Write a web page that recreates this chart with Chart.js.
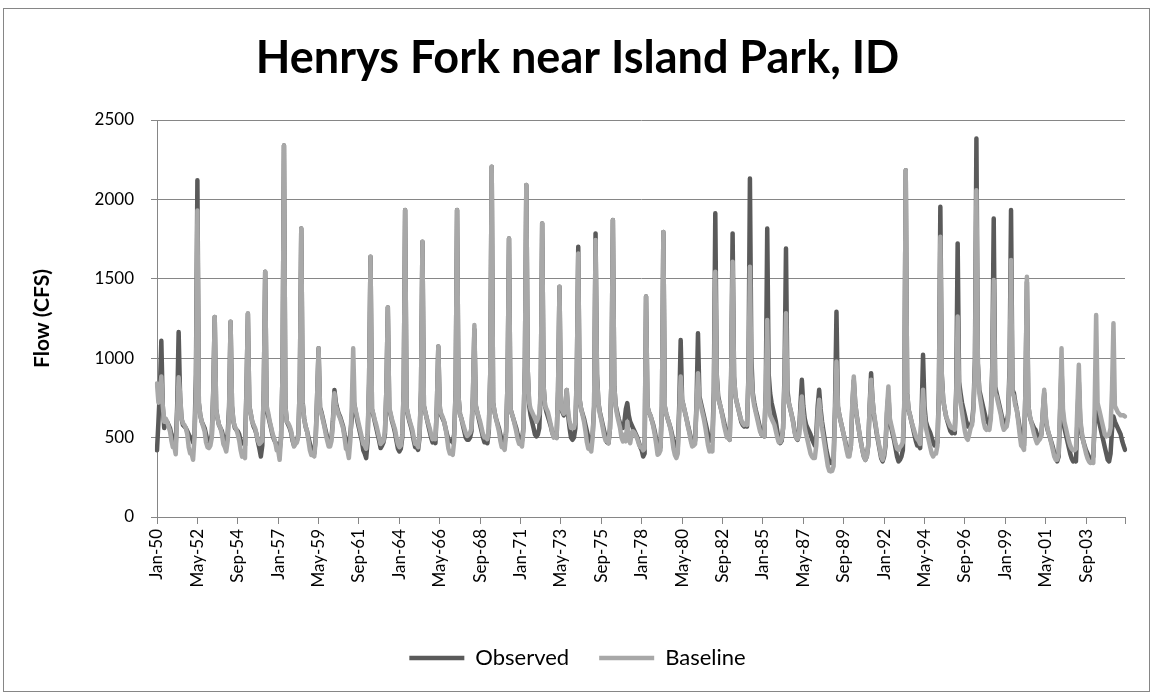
<!DOCTYPE html>
<html lang="en">
<head>
  <meta charset="UTF-8">
  <title>Henrys Fork near Island Park, ID</title>
  <script src="https://cdn.jsdelivr.net/npm/chart.js"></script>
  <style>
    body {
      margin: 0;
      background: #fff;
    }

    #wrap {
      position: relative;
      width: 1152px;
      height: 698px;
    }

    #frame {
      position: absolute;
      left: 3px;
      top: 8px;
      width: 1145px;
      height: 682px;
      border: 1px solid #868686;
      pointer-events: none;
    }
  </style>
</head>
<body>
  <div id="wrap">
    <canvas id="flowChart"></canvas>
    <div id="frame"></div>
  </div>

  <script>
    const monthNames = ['Jan', 'Feb', 'Mar', 'Apr', 'May', 'Jun', 'Jul', 'Aug', 'Sep', 'Oct', 'Nov', 'Dec'];
    const firstYear = 1950;
    const lastYear = 2005;
    const tickEvery = 28; // one axis label every 28 months

    // monthly flow (CFS), one row per year, Jan..Dec
    const observed = [
      420, 600, 800, 1110, 700, 560, 590, 600, 580, 560, 520, 490,   // 1950
      480, 460, 700, 1165, 760, 620, 580, 570, 560, 540, 520, 500,   // 1951
      500, 470, 520, 900, 2120, 720, 640, 600, 580, 560, 520, 480,   // 1952
      465, 480, 520, 800, 1260, 680, 620, 580, 560, 540, 500, 486,   // 1953
      486, 520, 700, 1230, 700, 600, 560, 550, 540, 520, 480, 465,   // 1954
      470, 450, 800, 1280, 700, 650, 600, 570, 550, 520, 470, 430,   // 1955
      381, 450, 800, 1545, 680, 640, 600, 560, 520, 490, 470, 460,   // 1956
      440, 420, 500, 900, 2340, 700, 600, 580, 560, 530, 480, 450,   // 1957
      470, 480, 520, 850, 1817, 720, 620, 570, 540, 500, 460, 420,   // 1958
      420, 400, 500, 760, 1063, 690, 660, 620, 580, 540, 500, 470,   // 1959
      480, 500, 620, 800, 720, 680, 650, 630, 600, 570, 520, 480,    // 1960
      444, 460, 520, 620, 740, 700, 650, 600, 560, 520, 480, 420,    // 1961
      400, 371, 480, 850, 1639, 680, 640, 600, 560, 520, 480, 434,   // 1962
      450, 470, 520, 800, 1320, 680, 640, 600, 570, 530, 480, 430,   // 1963
      413, 430, 500, 800, 1933, 690, 640, 600, 570, 530, 480, 440,   // 1964
      440, 423, 500, 800, 1733, 700, 660, 620, 580, 540, 500, 470,   // 1965
      480, 465, 700, 1073, 680, 640, 620, 600, 560, 520, 490, 480,   // 1966
      480, 470, 520, 800, 1933, 760, 650, 620, 580, 540, 500, 486,   // 1967
      486, 500, 540, 760, 1180, 700, 660, 620, 580, 540, 500, 470,   // 1968
      470, 465, 540, 900, 2205, 720, 660, 620, 590, 560, 520, 480,   // 1969
      480, 470, 540, 850, 1754, 680, 650, 620, 590, 560, 520, 490,   // 1970
      500, 480, 560, 950, 2090, 920, 700, 640, 600, 560, 520, 507,   // 1971
      520, 560, 800, 1849, 822, 700, 660, 630, 600, 570, 530, 510,   // 1972
      520, 500, 800, 1450, 700, 660, 640, 680, 800, 640, 560, 500,   // 1973
      486, 500, 560, 900, 1702, 738, 680, 650, 620, 580, 540, 500,   // 1974
      480, 470, 520, 700, 1786, 900, 717, 660, 620, 580, 540, 500,   // 1975
      470, 465, 560, 850, 1870, 822, 700, 660, 620, 590, 560, 560,   // 1976
      600, 680, 717, 640, 600, 580, 560, 540, 520, 500, 470, 440,    // 1977
      420, 381, 400, 1388, 696, 660, 640, 610, 580, 540, 490, 440,   // 1978
      420, 440, 700, 1795, 696, 650, 620, 590, 560, 520, 480, 440,   // 1979
      450, 440, 700, 1115, 738, 700, 660, 620, 580, 540, 500, 460,   // 1980
      470, 480, 720, 1157, 760, 720, 680, 640, 600, 560, 520, 480,   // 1981
      500, 486, 800, 1912, 900, 760, 717, 680, 640, 600, 560, 520,   // 1982
      500, 486, 900, 1786, 884, 760, 717, 680, 640, 600, 580, 570,   // 1983
      580, 570, 900, 2132, 1000, 780, 720, 675, 640, 600, 560, 520,  // 1984
      520, 507, 800, 1817, 900, 780, 720, 680, 640, 600, 540, 480,   // 1985
      465, 480, 560, 900, 1691, 800, 717, 680, 640, 600, 540, 500,   // 1986
      486, 520, 700, 864, 700, 620, 580, 560, 540, 520, 490, 470,    // 1987
      450, 520, 700, 801, 680, 600, 540, 480, 420, 380, 350, 340,    // 1988
      340, 360, 700, 1293, 696, 640, 600, 560, 520, 480, 440, 400,   // 1989
      400, 450, 700, 860, 717, 640, 580, 520, 470, 420, 380, 360,    // 1990
      380, 450, 700, 906, 738, 640, 580, 520, 470, 420, 370, 350,    // 1991
      380, 450, 650, 769, 600, 560, 520, 480, 430, 380, 350, 360,    // 1992
      380, 420, 700, 2184, 780, 675, 640, 600, 560, 520, 480, 450,   // 1993
      450, 434, 650, 1021, 700, 600, 570, 550, 530, 500, 470, 450,   // 1994
      450, 470, 800, 1953, 900, 738, 680, 633, 600, 570, 540, 528,   // 1995
      540, 528, 800, 1723, 850, 780, 720, 680, 640, 600, 570, 570,   // 1996
      580, 600, 700, 1000, 2383, 968, 800, 760, 720, 680, 640, 600,  // 1997
      600, 580, 650, 950, 1880, 820, 780, 740, 700, 660, 620, 600,   // 1998
      580, 590, 650, 950, 1933, 800, 780, 720, 675, 620, 560, 500,   // 1999
      470, 450, 800, 1480, 700, 633, 600, 580, 560, 549, 520, 500,   // 2000
      500, 520, 650, 780, 620, 560, 528, 500, 470, 440, 400, 380,    // 2001
      350, 380, 650, 950, 620, 560, 520, 480, 440, 400, 370, 350,    // 2002
      360, 350, 600, 850, 600, 520, 480, 450, 420, 400, 380, 370,    // 2003
      370, 380, 600, 700, 640, 600, 560, 520, 480, 440, 400, 360,    // 2004
      350, 400, 550, 633, 600, 580, 560, 540, 520, 480, 450, 423     // 2005
    ];

    const baseline = [
      840, 720, 780, 885, 700, 600, 620, 600, 570, 540, 480, 440,    // 1950
      440, 395, 650, 880, 780, 620, 590, 580, 560, 520, 440, 400,    // 1951
      400, 360, 500, 800, 1930, 720, 640, 600, 570, 540, 470, 440,   // 1952
      434, 450, 500, 780, 1260, 680, 620, 580, 560, 520, 460, 440,   // 1953
      413, 480, 680, 1230, 700, 600, 570, 550, 520, 480, 420, 380,   // 1954
      400, 371, 780, 1283, 700, 654, 600, 580, 560, 520, 480, 460,   // 1955
      470, 480, 800, 1545, 700, 660, 610, 570, 530, 500, 470, 420,   // 1956
      420, 360, 500, 900, 2340, 700, 600, 590, 570, 540, 490, 444,   // 1957
      460, 470, 520, 850, 1817, 717, 620, 570, 540, 480, 420, 390,   // 1958
      390, 381, 480, 760, 1063, 680, 650, 610, 570, 520, 480, 444,   // 1959
      444, 480, 600, 780, 700, 670, 640, 620, 590, 560, 500, 430,    // 1960
      420, 371, 480, 700, 1063, 700, 660, 620, 580, 540, 500, 460,   // 1961
      450, 430, 520, 850, 1639, 680, 650, 610, 580, 540, 500, 460,   // 1962
      470, 480, 540, 800, 1320, 690, 650, 610, 580, 550, 500, 460,   // 1963
      440, 450, 520, 800, 1933, 690, 650, 610, 580, 550, 500, 460,   // 1964
      460, 440, 520, 800, 1733, 700, 660, 620, 590, 560, 520, 490,   // 1965
      500, 490, 700, 1073, 700, 650, 630, 600, 560, 500, 430, 400,   // 1966
      400, 392, 480, 800, 1933, 760, 650, 620, 590, 560, 530, 510,   // 1967
      520, 530, 560, 780, 1209, 700, 660, 630, 600, 560, 520, 500,   // 1968
      500, 490, 560, 900, 2205, 720, 660, 620, 580, 540, 480, 440,   // 1969
      440, 423, 520, 850, 1754, 680, 650, 620, 580, 540, 490, 460,   // 1970
      460, 444, 540, 950, 2090, 920, 720, 680, 660, 640, 620, 600,   // 1971
      620, 650, 800, 1849, 822, 700, 680, 660, 620, 580, 530, 500,   // 1972
      510, 497, 800, 1450, 700, 670, 650, 700, 800, 660, 600, 560,   // 1973
      560, 560, 600, 900, 1660, 738, 680, 640, 600, 540, 470, 430,   // 1974
      430, 413, 500, 700, 1744, 880, 717, 650, 610, 560, 510, 480,   // 1975
      480, 465, 560, 850, 1870, 822, 690, 640, 600, 560, 500, 476,   // 1976
      520, 476, 600, 520, 465, 520, 540, 530, 510, 490, 460, 440,    // 1977
      440, 420, 430, 1388, 696, 660, 640, 610, 570, 520, 460, 392,   // 1978
      400, 420, 700, 1795, 696, 650, 620, 590, 550, 500, 430, 390,   // 1979
      371, 400, 650, 885, 738, 700, 660, 620, 570, 530, 480, 444,    // 1980
      450, 460, 700, 906, 740, 700, 660, 620, 570, 510, 450, 413,    // 1981
      440, 413, 760, 1545, 880, 740, 717, 680, 630, 580, 540, 500,   // 1982
      500, 486, 880, 1608, 884, 760, 717, 680, 640, 610, 590, 580,   // 1983
      590, 580, 880, 1576, 900, 760, 700, 660, 620, 580, 540, 520,   // 1984
      520, 507, 800, 1241, 700, 640, 620, 600, 580, 540, 500, 470,   // 1985
      470, 490, 560, 850, 1283, 760, 717, 680, 640, 590, 530, 500,   // 1986
      490, 510, 660, 759, 640, 560, 520, 480, 440, 400, 380, 371,    // 1987
      371, 450, 640, 738, 640, 560, 500, 440, 380, 320, 290, 287,    // 1988
      290, 320, 650, 979, 696, 640, 600, 560, 520, 470, 420, 381,    // 1989
      381, 450, 720, 885, 717, 640, 580, 520, 470, 420, 380, 360,    // 1990
      380, 450, 690, 864, 738, 650, 590, 530, 480, 430, 380, 360,    // 1991
      400, 460, 680, 822, 620, 580, 540, 500, 460, 430, 423, 440,    // 1992
      450, 470, 720, 2184, 780, 675, 640, 600, 570, 540, 510, 490,   // 1993
      480, 460, 620, 801, 640, 560, 520, 480, 440, 400, 381, 400,    // 1994
      400, 450, 780, 1765, 880, 738, 680, 633, 610, 590, 570, 560,   // 1995
      560, 550, 760, 1262, 800, 720, 660, 600, 540, 500, 486, 520,   // 1996
      560, 580, 680, 950, 2058, 968, 780, 720, 660, 600, 560, 549,   // 1997
      560, 549, 620, 900, 1492, 780, 760, 720, 680, 640, 580, 549,   // 1998
      560, 570, 630, 900, 1618, 780, 760, 700, 675, 600, 520, 450,   // 1999
      440, 423, 800, 1513, 700, 640, 600, 560, 520, 490, 465, 480,   // 2000
      490, 510, 660, 801, 640, 570, 528, 500, 460, 420, 380, 360,    // 2001
      360, 400, 700, 1063, 680, 600, 560, 520, 480, 450, 430, 420,   // 2002
      420, 430, 700, 958, 620, 540, 480, 440, 400, 370, 350, 340,    // 2003
      345, 340, 700, 1272, 717, 680, 640, 600, 560, 520, 507, 520,   // 2004
      520, 560, 800, 1220, 700, 680, 660, 650, 640, 640, 640, 633    // 2005
    ];

    // category labels like "Jan-50"
    const labels = [];
    for (let y = firstYear; y <= lastYear; y++) {
      for (const m of monthNames) {
        labels.push(m + '-' + String(y).slice(2));
      }
    }

    const axisGrey = '#868686';
    Chart.defaults.font.family = 'Lato, "Liberation Sans", sans-serif';
    Chart.defaults.color = '#000';

    const ctx = document.getElementById('flowChart').getContext('2d');
    new Chart(ctx, {
      type: 'line',
      data: {
        labels: labels,
        datasets: [
          {
            label: 'Observed',
            data: observed,
            borderColor: '#5a5a5a',
            backgroundColor: '#5a5a5a',
            borderWidth: 4.5,
            borderJoinStyle: 'round',
            borderCapStyle: 'round',
            pointRadius: 0,
            pointStyle: 'line',
            tension: 0,
            order: 1
          },
          {
            label: 'Baseline',
            data: baseline,
            borderColor: '#a8a8a8',
            backgroundColor: '#a8a8a8',
            borderWidth: 4.5,
            borderJoinStyle: 'round',
            borderCapStyle: 'round',
            pointRadius: 0,
            pointStyle: 'line',
            tension: 0,
            order: 0
          }
        ]
      },
      options: {
        responsive: true,
        maintainAspectRatio: false,
        animation: false,
        layout: {
          padding: { left: 30, right: 27, top: 0, bottom: 19 }
        },
        plugins: {
          title: {
            display: true,
            text: 'Henrys Fork near Island Park, ID',
            color: '#000',
            font: { size: 45, weight: 'bold' },
            padding: { top: 31, bottom: 35 }
          },
          legend: {
            position: 'bottom',
            labels: {
              usePointStyle: true,
              pointStyleWidth: 55,
              color: '#000',
              font: { size: 22 },
              padding: 30,
              sort: (a, b) => a.datasetIndex - b.datasetIndex
            }
          },
          tooltip: { enabled: false }
        },
        scales: {
          x: {
            ticks: {
              autoSkip: false,
              minRotation: 90,
              maxRotation: 90,
              padding: 5,
              font: { size: 17 },
              callback: (v, i) => (i % tickEvery === 0 ? labels[i] : '')
            },
            grid: {
              drawOnChartArea: false,
              tickLength: 7,
              color: (c) => (c.index % tickEvery === 0 || c.index === labels.length - 1) ? axisGrey : 'rgba(0,0,0,0)'
            },
            border: { color: axisGrey },
            afterFit: (scale) => { scale.height = 100; }
          },
          y: {
            min: 0,
            max: 2500,
            ticks: {
              stepSize: 500,
              padding: 17,
              font: { size: 17 },
              callback: (v) => String(v)
            },
            grid: { color: axisGrey, tickLength: 6 },
            border: { color: axisGrey },
            title: {
              display: true,
              text: 'Flow (CFS)',
              color: '#000',
              font: { size: 21, weight: 'bold' },
              padding: { top: 0, bottom: 0 }
            },
            afterFit: (scale) => { scale.width = 127; }
          }
        }
      }
    });
  </script>
</body>
</html>
